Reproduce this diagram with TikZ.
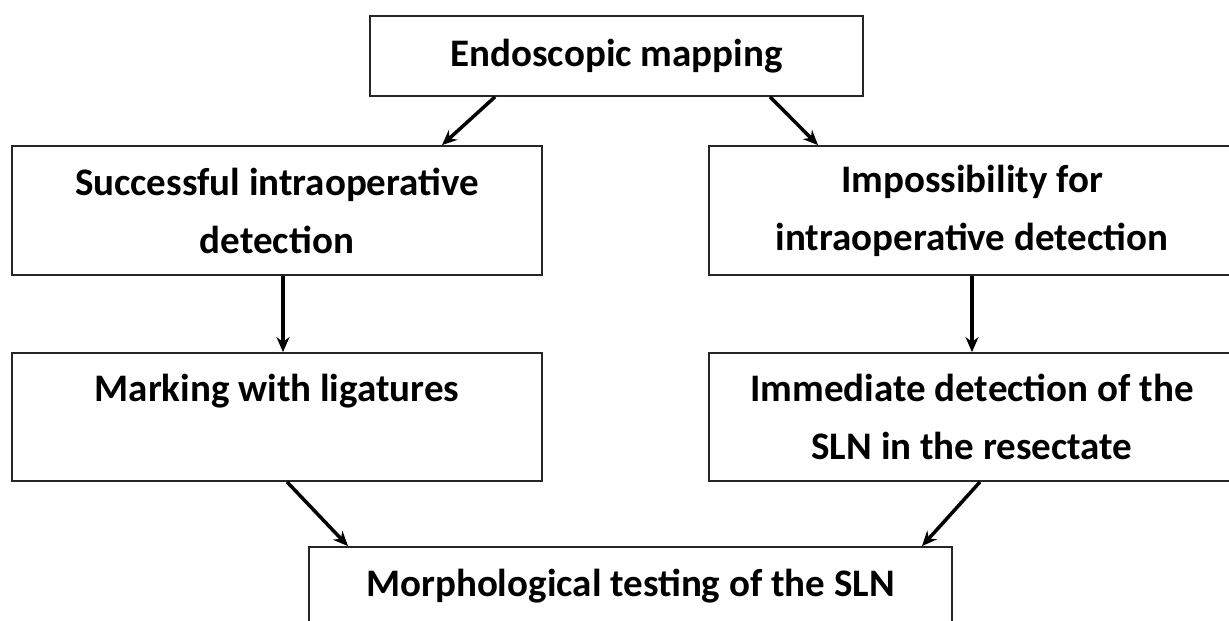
\documentclass[tikz,border=0pt]{standalone}
\usepackage{fontspec}
\setmainfont{Carlito}
\usetikzlibrary{calc,arrows.meta}
\tikzset{
  stepbox/.style={draw=black!85, line width=1.8pt, align=center, inner sep=0pt,
    font=\bfseries\fontsize{39}{58}\selectfont},
  flow/.style={->, line width=3.5pt},
}

\begin{document}
\begin{tikzpicture}[x=1pt, y=-1pt, >={Stealth[length=15pt, width=13pt]}]
    \useasboundingbox[fill=white] (0,0) rectangle (1229,621);
    % boxes
    \node[stepbox, minimum width=493pt, minimum height=80pt] (mapping) at (616.5,56) {Endoscopic mapping};
    \node[stepbox, minimum width=530pt, minimum height=129pt] (success) at (277,210.5) {Successful intraoperative\\detection};
    \node[stepbox, minimum width=526pt, minimum height=129pt] (imposs) at (972,210.5) {Impossibility for\\intraoperative detection};
    \node[stepbox, minimum width=530pt, minimum height=128pt] (marking) at (277,417) {Marking with ligatures\\ \mbox{}};
    \node[stepbox, minimum width=526pt, minimum height=128pt] (immed) at (972,417) {Immediate detection of the\\SLN in the resectate};
    \node[stepbox, minimum width=643pt, minimum height=78pt] (morph) at (630.5,586) {Morphological testing of the SLN};
    % arrows
    \draw[flow] ($(mapping.south)+(-121.5,0)$) -- ($(success.north)+(165,0)$);
    \draw[flow] ($(mapping.south)+(153.5,0)$) -- ($(imposs.north)+(-154,0)$);
    \draw[flow] ($(success.south)+(6,0)$) -- ($(marking.north)+(6,0)$);
    \draw[flow] (imposs) -- (immed);
    \draw[flow] ($(marking.south)+(10,0)$) -- ($(morph.north)+(-282.5,0)$);
    \draw[flow] ($(immed.south)+(8,0)$) -- ($(morph.north)+(291.5,0)$);
\end{tikzpicture}
\end{document}
